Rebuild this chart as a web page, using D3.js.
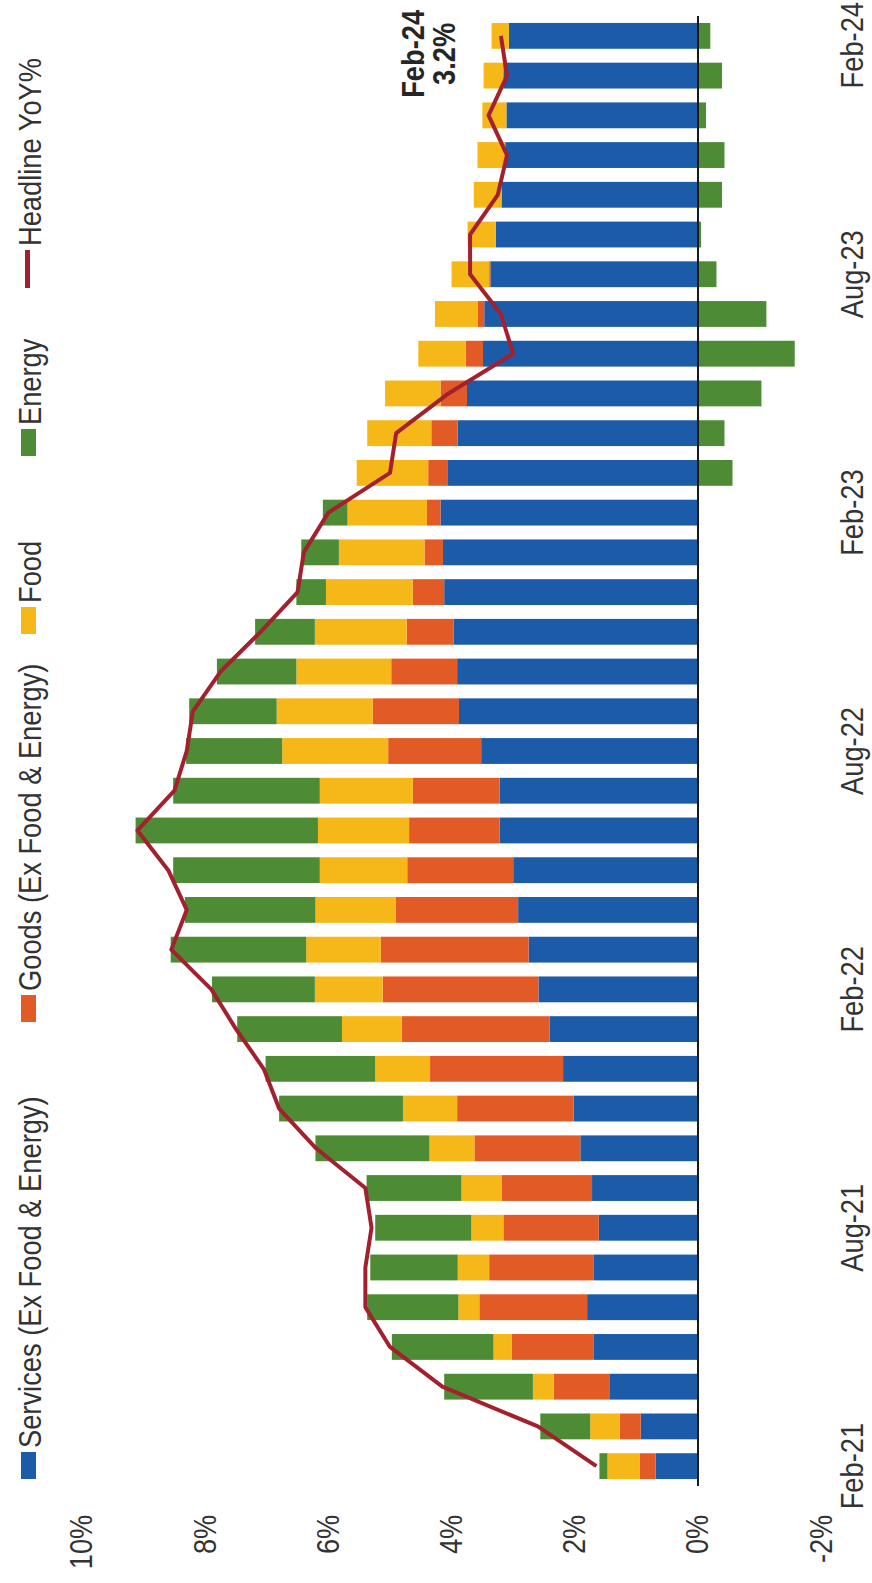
<!DOCTYPE html>
<html>
<head>
<meta charset="utf-8">
<script src="https://cdn.jsdelivr.net/npm/d3@7"></script>
<style>
  html, body { margin: 0; padding: 0; background: #ffffff; }
  svg { display: block; }
</style>
</head>
<body>
<svg id="chart" width="872" height="1583"></svg>
<script>
// Monthly contributions to US CPI YoY% (percentage points)
const months = ["Feb-21","Mar-21","Apr-21","May-21","Jun-21","Jul-21","Aug-21","Sep-21","Oct-21","Nov-21","Dec-21",
  "Jan-22","Feb-22","Mar-22","Apr-22","May-22","Jun-22","Jul-22","Aug-22","Sep-22","Oct-22","Nov-22","Dec-22",
  "Jan-23","Feb-23","Mar-23","Apr-23","May-23","Jun-23","Jul-23","Aug-23","Sep-23","Oct-23","Nov-23","Dec-23",
  "Jan-24","Feb-24"];
const services = [0.69,0.93,1.44,1.69,1.80,1.69,1.61,1.72,1.91,2.02,2.19,2.41,2.59,2.75,2.92,3.00,3.22,3.22,3.52,
  3.88,3.91,3.97,4.12,4.14,4.18,4.07,3.90,3.75,3.49,3.47,3.37,3.28,3.19,3.13,3.11,3.16,3.07];
const goods = [0.26,0.34,0.90,1.33,1.75,1.70,1.55,1.47,1.72,1.89,2.16,2.40,2.53,2.40,1.99,1.72,1.47,1.41,1.51,
  1.40,1.07,0.76,0.51,0.30,0.22,0.31,0.43,0.43,0.28,0.11,0.02,0.00,0.00,0.00,0.00,0.00,0.00];
const food = [0.52,0.48,0.34,0.30,0.34,0.51,0.52,0.65,0.73,0.88,0.89,0.97,1.10,1.21,1.30,1.42,1.48,1.51,1.72,
  1.56,1.54,1.49,1.41,1.39,1.29,1.16,1.04,0.90,0.77,0.69,0.61,0.46,0.45,0.45,0.39,0.32,0.28];
const energy = [0.13,0.81,1.44,1.65,1.48,1.42,1.56,1.54,1.85,2.01,1.78,1.70,1.67,2.20,2.12,2.38,2.96,2.38,1.56,
  1.42,1.29,0.97,0.48,0.61,0.40,-0.56,-0.43,-1.03,-1.57,-1.11,-0.30,-0.05,-0.39,-0.43,-0.13,-0.39,-0.20];
const headline = [1.65,2.6,4.15,5.0,5.4,5.4,5.3,5.4,6.2,6.8,7.05,7.5,7.9,8.55,8.3,8.6,9.1,8.5,8.3,8.2,7.75,7.1,
  6.5,6.4,6.0,5.0,4.9,4.05,3.0,3.2,3.7,3.7,3.25,3.1,3.4,3.1,3.2];

const tickMonths = ["Feb-21","Aug-21","Feb-22","Aug-22","Feb-23","Aug-23","Feb-24"];
const valueTicks = [-2, 0, 2, 4, 6, 8, 10];
const seriesNames = ["Services (Ex Food & Energy)", "Goods (Ex Food & Energy)", "Food", "Energy"];
const seriesColors = ["#1b5ba8", "#e25b26", "#f6b818", "#4e8b35"];
const lineName = "Headline YoY%";
const lineColor = "#a3202f";
const callout = ["Feb-24", "3.2%"];

// The chart is laid out landscape (W x H) and turned a quarter-turn
// counter-clockwise onto the portrait page.
const W = 1583, H = 872;
const FONT = "'Liberation Sans', Arial, Helvetica, sans-serif";
const SQUEEZE = 0.88;      // horizontal squeeze applied to all text
const TEXT_COLOR = "#333333";

const svg = d3.select("#chart");
const g = svg.append("g").attr("transform", `translate(0,${W}) rotate(-90)`);

const rows = months.map((m, i) => ({
  month: m, s: services[i], g: goods[i], f: food[i], e: energy[i], h: headline[i]
}));
const keys = ["s", "g", "f", "e"];

const x = d3.scaleBand().domain(months).range([97, 1567]).paddingInner(0.35).paddingOuter(0.175);
const y = d3.scaleLinear().domain([-2, 10]).range([821.2, 82]);

// stacked contribution bars (negatives stack below zero)
const stacked = d3.stack().keys(keys).offset(d3.stackOffsetDiverging)(rows);
g.append("g").attr("class", "bars")
  .selectAll("g").data(stacked).join("g")
  .attr("fill", (d, i) => seriesColors[i])
  .selectAll("rect").data(d => d).join("rect")
  .attr("x", d => x(d.data.month))
  .attr("width", x.bandwidth())
  .attr("y", d => y(Math.max(d[0], d[1])))
  .attr("height", d => Math.abs(y(d[0]) - y(d[1])));

// zero baseline
const [xr0, xr1] = x.range();
g.append("line")
  .attr("x1", xr0).attr("x2", xr1)
  .attr("y1", y(0)).attr("y2", y(0))
  .attr("stroke", "#1a1a1a").attr("stroke-width", 2);

// headline YoY line
const line = d3.line()
  .x(d => x(d.month) + x.bandwidth() / 2)
  .y(d => y(d.h));
g.append("path").datum(rows)
  .attr("d", line)
  .attr("fill", "none")
  .attr("stroke", lineColor)
  .attr("stroke-width", 4)
  .attr("stroke-linejoin", "round");

// value axis
const yAxis = g.append("g").attr("transform", "translate(71,0)")
  .call(d3.axisLeft(y).tickValues(valueTicks).tickFormat(d => d + "%").tickSize(0).tickPadding(3));
yAxis.select(".domain").remove();
yAxis.selectAll("text")
  .attr("font-size", 31).attr("font-family", FONT).attr("fill", TEXT_COLOR)
  .attr("transform", `scale(${SQUEEZE},1)`);

// month axis
const xAxis = g.append("g").attr("transform", "translate(0,838)")
  .call(d3.axisBottom(x).tickValues(tickMonths).tickSize(0).tickPadding(3));
xAxis.select(".domain").remove();
xAxis.selectAll("text")
  .attr("font-size", 31).attr("font-family", FONT).attr("fill", TEXT_COLOR)
  .attr("transform", `scale(${SQUEEZE},1)`);
// keep the last month label inside the drawing
xAxis.selectAll(".tick").each(function () {
  const tick = d3.select(this);
  const t = tick.select("text");
  const half = t.node().getComputedTextLength() * SQUEEZE / 2;
  const cx = x(tick.datum()) + x.bandwidth() / 2;
  const over = cx + half - (W - 2);
  if (over > 0) t.attr("transform", `translate(${-over},0) scale(${SQUEEZE},1)`);
});

// legend: entries start at fixed offsets along the top edge
const legendStarts = [104, 561, 949, 1127, 1295];
const legend = g.append("g").attr("class", "legend");
const swW = 27, swH = 15, swY = 21, textBase = 41, gapIn = 4;
function legendText(label, tx) {
  legend.append("text")
    .attr("transform", `translate(${tx},${textBase}) scale(${SQUEEZE},1)`)
    .attr("font-size", 31).attr("font-family", FONT).attr("fill", TEXT_COLOR)
    .text(label);
}
seriesNames.forEach((name, i) => {
  const lx = legendStarts[i];
  legend.append("rect").attr("x", lx).attr("y", swY).attr("width", swW).attr("height", swH)
    .attr("fill", seriesColors[i]);
  legendText(name, lx + swW + gapIn);
});
const lineStart = legendStarts[seriesNames.length];
legend.append("line")
  .attr("x1", lineStart).attr("x2", lineStart + 38)
  .attr("y1", swY + swH / 2 - 1).attr("y2", swY + swH / 2 - 1)
  .attr("stroke", lineColor).attr("stroke-width", 5);
legendText(lineName, lineStart + 38 + gapIn);

// callout for the latest reading
const last = rows[rows.length - 1];
const cx = x(last.month) + x.bandwidth() / 2 - 18;
callout.forEach((txt, i) => {
  g.append("text")
    .attr("transform", `translate(${cx},${424 + i * 31}) scale(${SQUEEZE},1)`)
    .attr("text-anchor", "middle")
    .attr("font-size", 31).attr("font-weight", "bold").attr("font-family", FONT)
    .attr("fill", "#262626")
    .text(txt);
});
</script>
</body>
</html>
